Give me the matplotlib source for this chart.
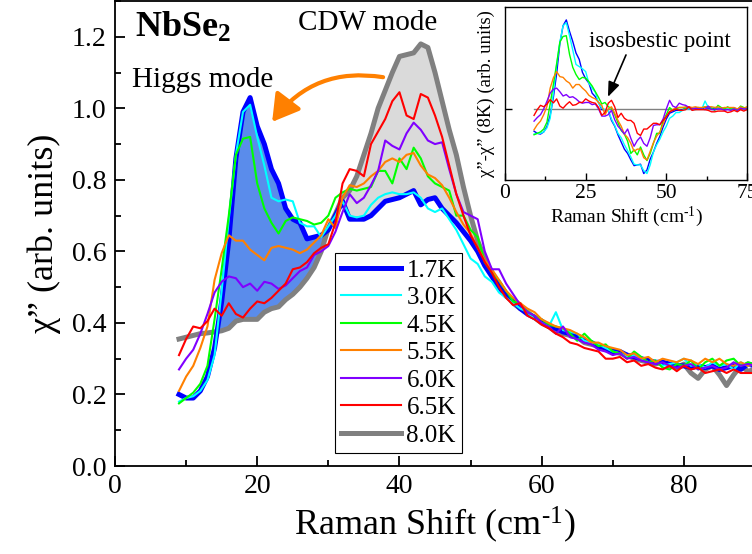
import numpy as np
import matplotlib
matplotlib.use('Agg')
import matplotlib.pyplot as plt
from matplotlib.ticker import MultipleLocator

plt.rcParams['font.family'] = ['Liberation Serif', 'DejaVu Serif']
plt.rcParams['mathtext.fontset'] = 'custom'
plt.rcParams['mathtext.rm'] = 'Liberation Serif'
plt.rcParams['mathtext.bf'] = 'Liberation Serif:bold'
plt.rcParams['mathtext.it'] = 'Liberation Serif:italic'

# Raman shift grid (cm-1)
shift = np.arange(9, 91)

chi_1p7K = [0.20, 0.19, 0.19, 0.21, 0.25, 0.33, 0.46, 0.63, 0.86, 0.99,
            1.03, 0.95, 0.90, 0.83, 0.79, 0.72, 0.69, 0.68, 0.635, 0.64,
            0.645, 0.66, 0.70, 0.74, 0.69, 0.69, 0.69, 0.70, 0.72, 0.74,
            0.745, 0.75, 0.76, 0.77, 0.73, 0.745, 0.75, 0.72, 0.70, 0.68,
            0.655, 0.63, 0.60, 0.56, 0.53, 0.50, 0.475, 0.46, 0.44, 0.425,
            0.415, 0.405, 0.39, 0.385, 0.375, 0.37, 0.36, 0.35, 0.345, 0.335,
            0.33, 0.32, 0.32, 0.31, 0.305, 0.30, 0.295, 0.29, 0.29, 0.285,
            0.28, 0.28, 0.275, 0.28, 0.275, 0.28, 0.27, 0.275, 0.28, 0.27,
            0.285, 0.28]
chi_3p0K = [0.18, 0.19, 0.195, 0.21, 0.24, 0.31, 0.49, 0.69, 0.87, 0.99,
            1.01, 0.92, 0.84, 0.75, 0.74, 0.745, 0.74, 0.68, 0.67, 0.67,
            0.64, 0.67, 0.70, 0.74, 0.70, 0.695, 0.70, 0.73, 0.75, 0.76,
            0.765, 0.76, 0.76, 0.765, 0.75, 0.72, 0.71, 0.72, 0.69, 0.66,
            0.62, 0.58, 0.565, 0.53, 0.515, 0.485, 0.47, 0.455, 0.44, 0.43,
            0.41, 0.40, 0.39, 0.43, 0.38, 0.375, 0.37, 0.35, 0.345, 0.34,
            0.33, 0.32, 0.315, 0.305, 0.31, 0.30, 0.29, 0.295, 0.28, 0.285,
            0.29, 0.30, 0.28, 0.285, 0.275, 0.29, 0.28, 0.285, 0.27, 0.29,
            0.28, 0.285]
chi_4p5K = [0.175, 0.19, 0.205, 0.23, 0.28, 0.41, 0.55, 0.70, 0.87, 0.915,
            0.92, 0.79, 0.72, 0.68, 0.65, 0.685, 0.695, 0.69, 0.685, 0.675,
            0.68, 0.70, 0.75, 0.765, 0.775, 0.77, 0.775, 0.78, 0.825, 0.825,
            0.79, 0.86, 0.83, 0.89, 0.86, 0.81, 0.79, 0.78, 0.77, 0.70,
            0.70, 0.66, 0.64, 0.57, 0.54, 0.52, 0.49, 0.46, 0.455, 0.43,
            0.42, 0.41, 0.395, 0.39, 0.385, 0.37, 0.35, 0.37, 0.35, 0.335,
            0.34, 0.32, 0.315, 0.30, 0.32, 0.305, 0.29, 0.295, 0.275, 0.27,
            0.285, 0.28, 0.295, 0.27, 0.29, 0.30, 0.28, 0.295, 0.30, 0.28,
            0.29, 0.285]
chi_5p5K = [0.21, 0.25, 0.28, 0.33, 0.39, 0.52, 0.595, 0.645, 0.63, 0.63,
            0.605, 0.59, 0.575, 0.61, 0.615, 0.61, 0.605, 0.595, 0.605, 0.625,
            0.645, 0.69, 0.665, 0.75, 0.785, 0.78, 0.79, 0.81, 0.825, 0.85,
            0.86, 0.85, 0.87, 0.875, 0.84, 0.815, 0.805, 0.785, 0.75, 0.71,
            0.675, 0.65, 0.61, 0.575, 0.55, 0.52, 0.49, 0.47, 0.455, 0.44,
            0.43, 0.41, 0.40, 0.39, 0.385, 0.38, 0.37, 0.36, 0.345, 0.345,
            0.335, 0.33, 0.325, 0.31, 0.315, 0.30, 0.305, 0.29, 0.30, 0.295,
            0.29, 0.30, 0.295, 0.285, 0.30, 0.29, 0.30, 0.285, 0.28, 0.29,
            0.28, 0.285]
chi_6p0K = [0.27, 0.30, 0.325, 0.37, 0.425, 0.485, 0.515, 0.53, 0.525, 0.50,
            0.51, 0.49, 0.515, 0.51, 0.495, 0.505, 0.525, 0.545, 0.555, 0.59,
            0.60, 0.615, 0.655, 0.71, 0.76, 0.735, 0.75, 0.785, 0.825, 0.91,
            0.895, 0.885, 0.93, 0.96, 0.94, 0.91, 0.90, 0.905, 0.83, 0.76,
            0.71, 0.70, 0.69, 0.60, 0.55, 0.55, 0.51, 0.48, 0.45, 0.43,
            0.42, 0.40, 0.39, 0.37, 0.39, 0.36, 0.355, 0.345, 0.34, 0.325,
            0.32, 0.31, 0.315, 0.30, 0.305, 0.295, 0.29, 0.285, 0.29, 0.28,
            0.275, 0.28, 0.285, 0.27, 0.275, 0.28, 0.27, 0.275, 0.29, 0.28,
            0.285, 0.28]
chi_6p5K = [0.31, 0.355, 0.39, 0.385, 0.405, 0.44, 0.42, 0.455, 0.425, 0.415,
            0.44, 0.46, 0.455, 0.47, 0.49, 0.51, 0.55, 0.555, 0.57, 0.595,
            0.61, 0.62, 0.68, 0.79, 0.83, 0.825, 0.81, 0.90, 0.935, 0.97,
            1.02, 1.045, 0.98, 0.97, 1.04, 1.03, 0.98, 0.92, 0.84, 0.76,
            0.70, 0.645, 0.61, 0.57, 0.54, 0.50, 0.47, 0.45, 0.455, 0.42,
            0.41, 0.395, 0.385, 0.37, 0.36, 0.345, 0.34, 0.33, 0.325, 0.32,
            0.30, 0.30, 0.305, 0.29, 0.295, 0.28, 0.285, 0.275, 0.27, 0.28,
            0.265, 0.28, 0.27, 0.275, 0.26, 0.265, 0.27, 0.26, 0.27, 0.26,
            0.26, 0.26]
chi_8p0K = [0.355, 0.36, 0.365, 0.37, 0.372, 0.375, 0.378, 0.385, 0.405, 0.41,
            0.41, 0.41, 0.43, 0.44, 0.445, 0.465, 0.48, 0.50, 0.525, 0.555,
            0.60, 0.665, 0.705, 0.75, 0.77, 0.81, 0.87, 0.93, 1.00, 1.05,
            1.10, 1.145, 1.15, 1.155, 1.18, 1.17, 1.10, 1.02, 0.94, 0.87,
            0.78, 0.70, 0.63, 0.58, 0.54, 0.51, 0.48, 0.455, 0.44, 0.43,
            0.415, 0.40, 0.39, 0.375, 0.37, 0.365, 0.36, 0.345, 0.34, 0.335,
            0.325, 0.32, 0.315, 0.31, 0.30, 0.295, 0.29, 0.285, 0.29, 0.28,
            0.275, 0.285, 0.26, 0.245, 0.27, 0.28, 0.255, 0.225, 0.255, 0.28,
            0.265, 0.27]

labels = ['1.7K', '3.0K', '4.5K', '5.5K', '6.0K', '6.5K', '8.0K']
series = [chi_1p7K, chi_3p0K, chi_4p5K, chi_5p5K, chi_6p0K, chi_6p5K, chi_8p0K]
colors = ['#0000FF', '#00FFFF', '#00FF00', '#FF8000', '#8000FF', '#FF0000', '#808080']
widths = [3.6, 1.5, 1.5, 1.5, 1.5, 1.5, 3.6]

fig = plt.figure(figsize=(7.52, 5.54), dpi=100)
ax = fig.add_axes([115 / 752, 88 / 554, 640 / 752, 465 / 554])

blue = np.array(chi_1p7K)
gray = np.array(chi_8p0K)
ax.fill_between(shift, gray, blue, where=(blue >= gray) & (shift <= 30),
                color='#5A8CEB', interpolate=True, lw=0, zorder=1)
ax.fill_between(shift, gray, blue, where=(gray >= blue) & (shift >= 29) & (shift <= 56),
                color='#DADADA', interpolate=True, lw=0, zorder=1)

handles = {}
draw_order = [6, 0, 1, 2, 3, 4, 5]
for i in draw_order:
    h, = ax.plot(shift, series[i], color=colors[i], lw=widths[i], label=labels[i],
                 zorder=2 + draw_order.index(i))
    handles[i] = h

ax.set_xlim(0, 90)
ax.set_ylim(0, 1.3)
ax.xaxis.set_major_locator(MultipleLocator(20))
ax.xaxis.set_minor_locator(MultipleLocator(10))
ax.yaxis.set_major_locator(MultipleLocator(0.2))
ax.yaxis.set_minor_locator(MultipleLocator(0.1))
ax.yaxis.set_major_formatter(plt.FormatStrFormatter('%.1f'))
ax.tick_params(which='both', direction='in', width=1.3, labelsize=20)
ax.tick_params(which='major', length=7, pad=6)
ax.tick_params(which='minor', length=4)
for s in ax.spines.values():
    s.set_linewidth(1.3)

ax.set_xlabel('Raman Shift (cm$^{\\text{-}1}$)', fontsize=26, labelpad=4)
ax.set_ylabel('χ” (arb. units)', fontsize=26, labelpad=8)

leg = ax.legend([handles[i] for i in range(7)], labels, loc='lower left',
                bbox_to_anchor=(0.344, 0.028), borderaxespad=0, fontsize=18,
                labelspacing=0.2, handlelength=2.4, handletextpad=0.2,
                borderpad=0.25, fancybox=False, framealpha=1, edgecolor='black')
leg.get_frame().set_linewidth(0.8)

ax.text(0.031, 0.923, 'NbSe$_{\\mathbf{2}}$', transform=ax.transAxes, fontsize=26,
        fontweight='bold', ha='left', va='baseline')
ax.text(0.027, 0.815, 'Higgs mode', transform=ax.transAxes, fontsize=21,
        ha='left', va='baseline')
ax.text(0.286, 0.9376, 'CDW mode', transform=ax.transAxes, fontsize=21,
        ha='left', va='baseline')

ax.annotate('', xy=(22.1, 0.962), xytext=(37.7, 1.087),
            arrowprops=dict(arrowstyle='-|>,head_length=1.6,head_width=0.95',
                            mutation_scale=10, color='#FF8000', lw=3,
                            shrinkA=0, shrinkB=0,
                            connectionstyle='arc3,rad=0.3'))

# inset: difference to 8.0K
ins = fig.add_axes([505 / 752, (554 - 180) / 554, 242 / 752, 173 / 554])
ins.plot([shift[0], 75], [0, 0], color='#808080', lw=1.0, zorder=1)
for i in range(6):
    diff = np.array(series[i]) - gray
    ins.plot(shift, diff, color=colors[i], lw=1.0, zorder=2)
ins.set_xlim(0, 75)
ins.set_ylim(-0.495, 0.71)
ins.xaxis.set_major_locator(MultipleLocator(25))
ins.xaxis.set_minor_locator(MultipleLocator(12.5))
ins.set_yticks([0])
ins.set_yticklabels([])
ins.tick_params(which='both', direction='in', width=1.0, labelsize=15.5, pad=3)
ins.tick_params(which='major', length=5)
ins.tick_params(which='minor', length=3)
for s in ins.spines.values():
    s.set_linewidth(1.0)
ins.set_xlabel('Raman Shift (cm$^{\\text{-}1}$)', fontsize=14, labelpad=1)
ins.set_ylabel('χ”-χ” (8K) (arb. units)', fontsize=13.5, labelpad=4)
ins.text(26.0, 0.432, 'isosbestic point', fontsize=16.5, ha='left', va='baseline')
ins.annotate('', xy=(31.9, 0.0836), xytext=(37.5, 0.376),
             arrowprops=dict(arrowstyle='-|>,head_length=0.9,head_width=0.35',
                             mutation_scale=10, color='black', lw=1.2,
                             shrinkA=0, shrinkB=0))

fig.savefig('out.png', dpi=100)
